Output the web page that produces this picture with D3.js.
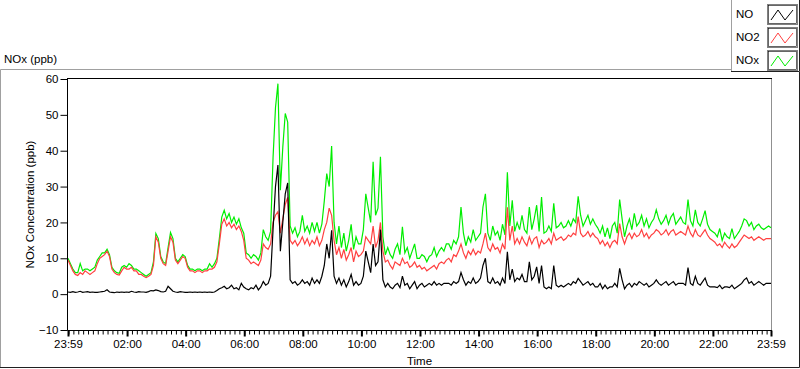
<!DOCTYPE html>
<html>
<head>
<meta charset="utf-8">
<script src="https://cdn.jsdelivr.net/npm/d3@7"></script>
<style>
  body { margin: 0; background: #fff; }
  svg { display: block; font-family: "Liberation Sans", Arial, sans-serif; }
</style>
</head>
<body>
<div id="chart"></div>
<script>
// readings every 5 minutes, starting 23:59
var stepMin = 5

var no = [
  0.6, 0.5, 0.7, 0.5, 0.6, 0.8, 0.5, 0.6, 0.7, 0.5, 0.6, 0.5,
  0.5, 0.6, 0.7, 0.8, 1.2, 0.6, 0.5, 0.4, 0.6, 0.5, 0.6, 0.5,
  0.6, 0.5, 0.8, 0.6, 0.5, 0.7, 0.6, 0.6, 0.5, 0.7, 1.0, 0.9,
  1.2, 1.0, 0.7, 0.6, 0.8, 2.2, 1.5, 0.8, 0.6, 0.5, 0.7, 0.6,
  0.5, 0.5, 0.6, 0.5, 0.6, 0.5, 0.6, 0.5, 0.6, 0.5, 0.6, 0.5,
  0.6, 1.0, 1.5, 1.8, 2.2, 1.5, 1.8, 2.5, 1.5, 1.8, 1.2, 3.0,
  2.0, 1.5, 1.2, 1.8, 1.5, 2.5, 1.2, 2.0, 3.5, 2.5, 3.0, 5.0,
  18, 30, 36, 12, 20, 28, 31, 4, 3, 3.5, 2.5, 3,
  4, 3, 3.5, 2.5, 4.5, 3, 4, 3, 5, 8, 14, 10,
  17.8, 5, 3, 4.5, 2.5, 4, 2, 3.5, 5.5, 2.5, 3.5, 2.5,
  3, 5, 12, 9, 6, 14, 8, 9, 18, 4, 2, 3,
  2, 1.5, 2.5, 3, 1.8, 5, 2.5, 3, 1.5, 2.5, 3.5, 1.5,
  2.5, 3, 2, 2.5, 3, 2.5, 3.5, 2.5, 3, 2.5, 3, 3,
  3, 2.5, 3.5, 3, 3.5, 6, 4, 2.5, 3.5, 3, 4.5, 3,
  3.5, 4.5, 8, 10, 3.5, 3, 4.5, 3, 3.5, 2.5, 4.5, 3,
  11.8, 4, 7, 3.5, 4.5, 4, 5.5, 3.5, 3.5, 9, 4, 5,
  7.6, 3, 8, 2, 1.5, 2, 1.5, 8, 2.5, 2, 2.5, 2,
  2.5, 3, 2.5, 3.5, 3, 4.4, 3.5, 2.5, 3, 3.5, 2.5, 3,
  2, 2, 3, 1.5, 2.5, 1.5, 2, 2, 3, 2, 7.2, 4,
  1.5, 2.5, 3, 2, 3, 2.5, 3.5, 3, 2.5, 3, 2, 2.5,
  3, 4, 3, 2.5, 3, 3.5, 2.5, 3, 3.5, 2.5, 3, 3,
  3, 2.5, 7.4, 3, 2.5, 5, 3, 2.5, 3.5, 4.5, 2.5, 2,
  2, 2, 1.8, 2.5, 1.5, 2, 2, 1.8, 2.5, 1.5, 2, 2.5,
  3, 4, 4.5, 3, 3.5, 2.5, 3, 3.5, 3, 2.5, 3, 3, 3
]

var no2 = [
  9.5, 8, 6.5, 5.5, 5.2, 6, 5.5, 6.5, 6, 5.5, 6, 6.5,
  8.5, 10, 10.5, 11, 12, 10.5, 7, 6, 5.5, 5.3, 6.5, 7.5,
  7, 7, 7.5, 6.5, 6.5, 5.5, 5.5, 5, 4.6, 5, 5.5, 8,
  16, 14.5, 10, 8.5, 8, 12, 16, 14.5, 9.5, 8.5, 9.5, 10.5,
  10, 7.5, 6.5, 6.5, 6, 6.5, 6.5, 6, 6.5, 6.5, 7, 7,
  7.5, 9, 14, 19.5, 21, 19, 20, 18.5, 19.5, 18, 19, 17.5,
  15, 10, 9.5, 8.5, 9, 8.5, 8, 9.5, 14, 13, 12.5, 14,
  20, 22, 23, 17, 21, 25, 27, 15, 14, 15, 13.5, 14.5,
  16, 14, 15.5, 13.5, 15, 14, 16, 13.5, 15, 18, 20, 24,
  22, 15, 11, 13, 10, 12.5, 9.5, 11, 13, 9, 12, 10.5,
  11, 12, 16, 15, 14, 19, 13, 15, 20, 12, 9, 9.5,
  8, 7, 9, 8.5, 8, 10, 8.5, 9, 7.5, 8, 9, 7.5,
  8, 7, 7.5, 6.5, 7, 7.5, 8, 7, 8.5, 9, 8.5, 9.5,
  10, 9, 11, 10.5, 12, 14, 11.5, 10, 12, 11, 12.5, 11,
  12, 11.5, 14, 17, 13, 12, 14, 12.5, 13, 11.5, 14, 12.5,
  24.2, 15, 19, 14, 15.5, 14, 16, 14.5, 13.5, 16, 14, 15.5,
  16, 13, 15, 14, 14.5, 15.5, 14, 17, 15, 15.5, 16, 15,
  15.5, 16.5, 16, 17, 16.5, 21.6, 17, 16, 16.5, 17.5, 16, 17,
  16, 15.5, 14, 15, 13.5, 14.5, 13, 14.5, 15, 14, 19.7, 16,
  14, 16, 17, 15.5, 17, 16, 16.5, 18, 16, 17, 15.5, 16.5,
  17, 18, 17.5, 16.5, 17, 18, 16.5, 17.5, 18, 16.5, 17, 17.5,
  17, 16.5, 19, 17, 16, 18, 16.5, 16, 17, 18, 16.5, 15.5,
  15, 14.5, 13.5, 14, 13, 14.5, 13.5, 12.8, 14, 13, 13.5, 14.5,
  15.5, 16.5, 16, 15.5, 16, 15, 15.5, 16, 15.5, 15, 15.5, 15.5, 15.5
]

var nox = [
  10, 8.5, 7, 6, 6, 8.5, 6.5, 7, 7, 6.5, 7, 7.5,
  9.5, 10.5, 11.5, 11.5, 12.5, 11, 7.5, 6.5, 6, 5.8, 7.5, 8,
  7.5, 8.5, 8, 7, 7, 6.5, 6, 5.5, 5, 5.5, 6, 9,
  16.9, 15.5, 10.5, 9, 8.5, 13, 17.2, 15.5, 10, 9, 10, 11,
  10.5, 8, 7, 7, 6.5, 7, 7, 6.5, 7, 7, 8.5, 7.5,
  8.5, 10, 15.5, 21.5, 23.4, 21, 22.5, 20, 21.5, 19.5, 21, 18.5,
  17, 11.5, 11, 10, 11, 10.5, 9.5, 11.5, 18, 16, 15, 17.5,
  38, 52, 58.7, 29, 41, 50.4, 48, 19, 17, 18.5, 16, 17.5,
  22, 17.5, 19, 17, 20, 17.5, 20, 17, 19.5, 26, 33.6, 30,
  41.3, 20, 14, 19, 13, 17, 12, 15, 19.5, 12.5, 16, 14,
  14, 18, 28, 24, 20, 36.9, 22, 24, 38.3, 16, 11, 13,
  11, 10, 12.5, 14, 11, 18.8, 11.5, 13, 10, 12, 14, 10,
  10, 11, 10.5, 9, 10.5, 11, 13, 10.5, 12, 13, 12, 14,
  14, 12.5, 15, 14, 16, 24.3, 17, 13.5, 16, 14.5, 18, 15,
  16, 17, 24.3, 28, 17, 15, 19, 16.5, 17.5, 15, 19.5, 16.5,
  34, 19, 26.2, 17.5, 20, 18, 22, 18, 17, 24.3, 18, 21,
  24.8, 17.5, 27.1, 17, 17.5, 19, 17.5, 25.3, 18.5, 19, 20, 18.5,
  19, 20.5, 19, 21, 20, 27.3, 22, 19, 20.5, 22, 19.5, 21,
  19.5, 18.5, 17, 19, 16, 18.5, 15.5, 19, 20, 17, 26.4, 21,
  16, 19, 21, 18, 22.5, 19, 20, 22, 19, 21, 18.5, 20,
  21, 23.5, 21, 19.5, 20.5, 22, 19.5, 21.5, 22.5, 19.5, 20.5, 21.5,
  20, 19.5, 26.4, 20.5, 19, 23.5, 20, 19, 21, 23.3, 19.5, 18,
  17.5, 17, 16, 18.3, 15, 17, 16, 15.5, 18.3, 15.5, 16.5, 17.5,
  19, 21, 20.5, 19, 20, 18, 19, 19.5, 18.5, 18, 18.5, 19, 18.5
]

var seriesNames = ["NO", "NO2", "NOx"]
var seriesColors = ["#000000", "#ff4040", "#00ee00"]
var yTicks = [-10, 0, 10, 20, 30, 40, 50, 60]

var W = 800, H = 369
var mLeft = 68, mRight = 771, mTop = 79, mBottom = 330

var svg = d3.select("#chart").append("svg")
    .attr("width", W)
    .attr("height", H)

// panel frame
svg.append("path").attr("d", "M0.5,368 V69.5 H731").attr("fill", "none").attr("stroke", "#a0a0a0")
svg.append("path").attr("d", "M0,367.5 H799.5 V72").attr("fill", "none").attr("stroke", "#202020")

svg.append("text")
    .attr("x", 4).attr("y", 63)
    .style("font-size", "11.5px")
    .text("NOx (ppb)")

var t0 = new Date(2020, 0, 1, 23, 59)
var t1 = new Date(2020, 0, 2, 23, 59)

var x = d3.scaleTime().domain([t0, t1]).range([mLeft, mRight])
var y = d3.scaleLinear().domain([-10, 60]).range([mBottom, mTop])

function timeOf(i) { return d3.timeMinute.offset(t0, i * stepMin) }

// plot borders
svg.append("line").attr("x1", mLeft).attr("x2", mRight + 1).attr("y1", mTop - 0.5).attr("y2", mTop - 0.5).attr("stroke", "#000")
svg.append("line").attr("x1", mRight + 0.5).attr("x2", mRight + 0.5).attr("y1", mTop).attr("y2", mBottom).attr("stroke", "#909090")

// lines
var line = d3.line()
    .x(function(d, i) { return x(timeOf(i)) })
    .y(function(d) { return y(d) })

var plot = svg.append("g")
var order = [[nox, 2], [no2, 1], [no, 0]]
order.forEach(function(o) {
  plot.append("path")
      .datum(o[0])
      .attr("d", line)
      .attr("fill", "none")
      .attr("stroke", seriesColors[o[1]])
      .attr("stroke-width", 1.2)
      .attr("stroke-linejoin", "miter")
})

// y axis
var yAxis = svg.append("g")
    .attr("transform", "translate(" + (mLeft - 0.5) + ",0)")
    .call(d3.axisLeft(y).tickValues(yTicks).tickSize(7).tickPadding(2))
yAxis.select(".domain").attr("d", "M0," + (mTop - 1) + "V" + (mBottom + 0.5))
yAxis.selectAll("text").style("font-size", "11.5px").attr("fill", "#000")

svg.append("text")
    .attr("transform", "translate(34," + ((mTop + mBottom) / 2) + ") rotate(-90)")
    .attr("text-anchor", "middle")
    .style("font-size", "11.5px")
    .text("NOx Concentration (ppb)")

// x axis
var majors = [t0].concat(d3.timeHour.every(2).range(new Date(2020, 0, 2, 1), t1)).concat([t1])
var minors = d3.timeMinute.every(10).range(t0, t1)

var xAxisMinor = svg.append("g")
    .attr("transform", "translate(0," + (mBottom + 0.5) + ")")
    .call(d3.axisBottom(x).tickValues(minors).tickSize(4).tickFormat(""))
xAxisMinor.select(".domain").remove()

var xAxis = svg.append("g")
    .attr("transform", "translate(0," + (mBottom + 0.5) + ")")
    .call(d3.axisBottom(x).tickValues(majors).tickSize(6).tickPadding(3)
      .tickFormat(d3.timeFormat("%H:%M")))
xAxis.select(".domain").attr("d", "M" + (mLeft - 0.5) + ",0H" + (mRight + 1))
xAxis.selectAll(".tick line").attr("stroke-width", 2)
xAxis.selectAll("text").style("font-size", "11.5px").attr("fill", "#000")

svg.append("text")
    .attr("x", (mLeft + mRight) / 2).attr("y", 365)
    .attr("text-anchor", "middle")
    .style("font-size", "11.5px")
    .text("Time")

// legend
var legend = svg.append("g")
legend.append("path").attr("d", "M731.5,72 V0").attr("stroke", "#a0a0a0").attr("fill", "none")
legend.append("path").attr("d", "M731,71.5 H799.5 V0").attr("stroke", "#202020").attr("fill", "none")

seriesNames.forEach(function(name, i) {
  var by = 4 + i * 23
  legend.append("text")
      .attr("x", 736).attr("y", by + 14)
      .style("font-size", "11.5px")
      .text(name)
  legend.append("rect")
      .attr("x", 767.5).attr("y", by + 0.5).attr("width", 30).attr("height", 20)
      .attr("fill", "#fff").attr("stroke", "#808080")
  legend.append("rect")
      .attr("x", 768.5).attr("y", by + 1.5).attr("width", 28).attr("height", 18)
      .attr("fill", "none").attr("stroke", "#000").attr("stroke-width", 0.6)
  legend.append("path")
      .attr("d", "M" + 771 + "," + (by + 16) + " L778," + (by + 6) + " L785," + (by + 16) + " L793," + (by + 6))
      .attr("fill", "none")
      .attr("stroke", seriesColors[i])
})
</script>
</body>
</html>
